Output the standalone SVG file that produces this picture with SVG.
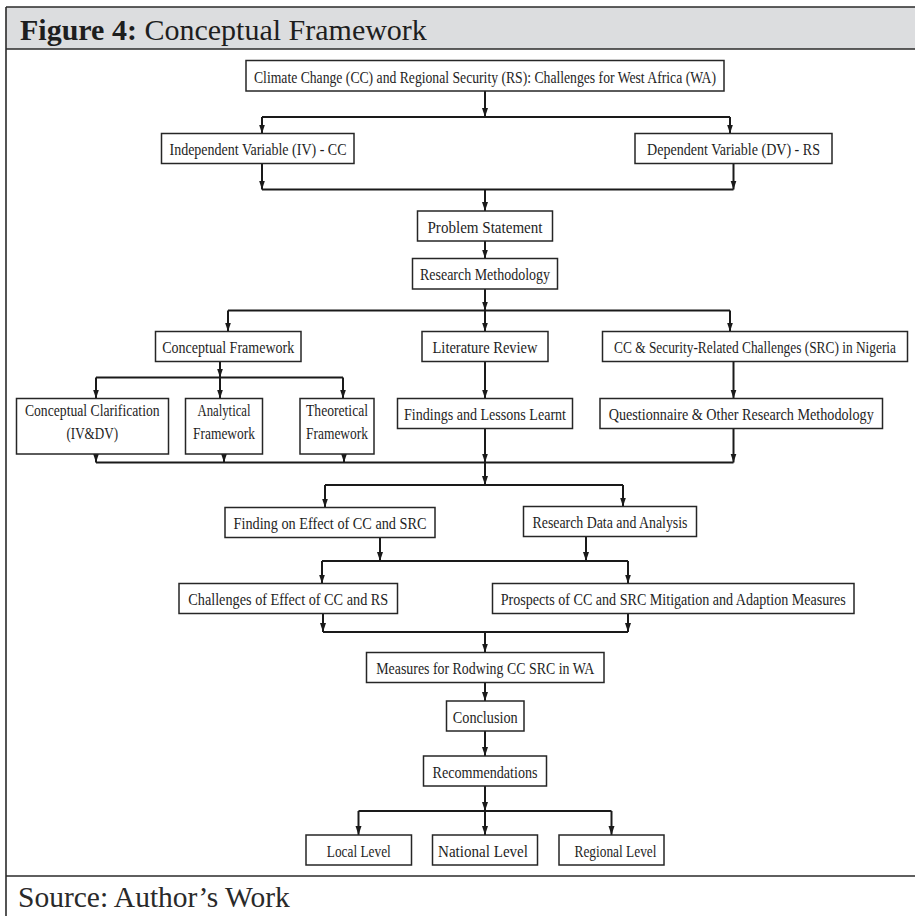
<svg xmlns="http://www.w3.org/2000/svg" width="915" height="916" viewBox="0 0 915 916">
  <style>
    .frame { stroke: #2b2b2b; stroke-width: 1.6; fill: none; }
    .band { fill: #dcdddf; }
    .box { fill: #ffffff; stroke: #262626; stroke-width: 1.5; }
    .lbl { font-family: "Liberation Serif", "Times New Roman", serif; font-size: 16px; fill: #1e1e1e; text-anchor: middle; }
    .title { font-family: "Liberation Serif", "Times New Roman", serif; font-size: 30px; fill: #1e1e1e; }
    .src { font-family: "Liberation Serif", "Times New Roman", serif; font-size: 29.5px; fill: #2a2a2a; }
    .wire { stroke: #1a1a1a; stroke-width: 2; fill: none; }
    .arr { stroke: #1a1a1a; stroke-width: 2; fill: none; marker-end: url(#head); }
  </style>
  <defs>
    <marker id="head" markerUnits="userSpaceOnUse" markerWidth="10" markerHeight="8" refX="9" refY="3.5" orient="auto">
      <path d="M0,0.5 L9,3.5 L0,6.5 z" fill="#1a1a1a"/>
    </marker>
  </defs>

  <!-- page frame and caption bands -->
  <rect class="band" x="6" y="7" width="909" height="42"/>
  <path class="frame" d="M6,7 H915 M6,49 H915 M6,876 H915 M6,7 V916"/>
  <text class="title" x="20" y="40"><tspan font-weight="bold">Figure 4:</tspan> Conceptual Framework</text>
  <text class="src" x="18" y="907">Source: Author’s Work</text>

  <!-- connectors -->
  <g id="connectors">
    <path class="arr" d="M485,91 V117"/>
    <path class="wire" d="M262,117 H730"/>
    <path class="arr" d="M262,117 V133.5"/>
    <path class="arr" d="M730,117 V133.5"/>

    <path class="arr" d="M262,163.5 V189.5"/>
    <path class="arr" d="M733.5,163.5 V189.5"/>
    <path class="wire" d="M262,189.5 H733.5"/>
    <path class="arr" d="M485,189.5 V211"/>

    <path class="arr" d="M485,241 V258.5"/>

    <path class="arr" d="M485,289 V310.5"/>
    <path class="wire" d="M228,310.5 H730"/>
    <path class="arr" d="M228,310.5 V331.5"/>
    <path class="arr" d="M485,310.5 V331.5"/>
    <path class="arr" d="M730,310.5 V331.5"/>

    <path class="arr" d="M220,361.5 V377.5"/>
    <path class="wire" d="M96,377.5 H343"/>
    <path class="arr" d="M96,377.5 V398.5"/>
    <path class="arr" d="M220,377.5 V398.5"/>
    <path class="arr" d="M343,377.5 V398.5"/>
    <path class="arr" d="M485,361.5 V398.5"/>
    <path class="arr" d="M733.5,361.5 V398.5"/>

    <path class="arr" d="M96,454 V462.5"/>
    <path class="arr" d="M224,454 V462.5"/>
    <path class="arr" d="M344,454 V462.5"/>
    <path class="arr" d="M485,428.5 V462.5"/>
    <path class="arr" d="M733.5,428.5 V462.5"/>
    <path class="wire" d="M96,462.5 H733.5"/>

    <path class="arr" d="M485,462.5 V485"/>
    <path class="wire" d="M325,485 H623"/>
    <path class="arr" d="M325,485 V507.5"/>
    <path class="arr" d="M623,485 V506.5"/>

    <path class="arr" d="M380,537.5 V561"/>
    <path class="arr" d="M586,536.5 V561"/>
    <path class="wire" d="M322,561 H628"/>
    <path class="arr" d="M322,561 V583.5"/>
    <path class="arr" d="M628,561 V583.5"/>

    <path class="arr" d="M323,613.5 V632"/>
    <path class="arr" d="M628,613.5 V632"/>
    <path class="wire" d="M323,632 H628"/>
    <path class="arr" d="M485,632 V652.5"/>

    <path class="arr" d="M485,682.5 V701"/>
    <path class="arr" d="M485,731 V756"/>
    <path class="arr" d="M485,786 V811"/>
    <path class="wire" d="M358.5,811 H611.5"/>
    <path class="arr" d="M358.5,811 V835"/>
    <path class="arr" d="M485,811 V835"/>
    <path class="arr" d="M611.5,811 V835"/>
  </g>

  <!-- nodes -->
  <g id="topic">
    <rect class="box" x="246" y="60.5" width="478" height="30.5"/>
    <text class="lbl" x="485" y="82.5" textLength="462" lengthAdjust="spacingAndGlyphs">Climate Change (CC) and Regional Security (RS): Challenges for West Africa (WA)</text>
  </g>
  <g id="iv">
    <rect class="box" x="161.5" y="133.5" width="192.5" height="30"/>
    <text class="lbl" x="258" y="155" textLength="177" lengthAdjust="spacingAndGlyphs">Independent Variable (IV) - CC</text>
  </g>
  <g id="dv">
    <rect class="box" x="635" y="133.5" width="197" height="30"/>
    <text class="lbl" x="733.5" y="155" textLength="173" lengthAdjust="spacingAndGlyphs">Dependent Variable (DV) - RS</text>
  </g>
  <g id="problem">
    <rect class="box" x="417.5" y="211" width="135" height="30"/>
    <text class="lbl" x="485" y="232.5" textLength="115" lengthAdjust="spacingAndGlyphs">Problem Statement</text>
  </g>
  <g id="method">
    <rect class="box" x="412.5" y="258.5" width="145" height="30.5"/>
    <text class="lbl" x="485" y="280" textLength="130" lengthAdjust="spacingAndGlyphs">Research Methodology</text>
  </g>
  <g id="concept">
    <rect class="box" x="155.5" y="331.5" width="145.5" height="30"/>
    <text class="lbl" x="228.25" y="353" textLength="132" lengthAdjust="spacingAndGlyphs">Conceptual Framework</text>
  </g>
  <g id="literature">
    <rect class="box" x="422" y="331.5" width="126" height="30"/>
    <text class="lbl" x="485" y="353" textLength="105" lengthAdjust="spacingAndGlyphs">Literature Review</text>
  </g>
  <g id="src-nigeria">
    <rect class="box" x="602.5" y="331.5" width="305" height="30"/>
    <text class="lbl" x="755" y="353" font-size="15" textLength="282" lengthAdjust="spacingAndGlyphs">CC &amp; Security-Related Challenges (SRC) in Nigeria</text>
  </g>
  <g id="clarification">
    <rect class="box" x="16.5" y="398.5" width="152" height="55.5"/>
    <text class="lbl" x="92.25" y="415.5" textLength="134.7" lengthAdjust="spacingAndGlyphs">Conceptual Clarification</text>
    <text class="lbl" x="92.25" y="439" textLength="51.6" lengthAdjust="spacingAndGlyphs">(IV&amp;DV)</text>
  </g>
  <g id="analytical">
    <rect class="box" x="185.5" y="398.5" width="77" height="55.5"/>
    <text class="lbl" x="224" y="415.5" textLength="53" lengthAdjust="spacingAndGlyphs">Analytical</text>
    <text class="lbl" x="224" y="439" textLength="62" lengthAdjust="spacingAndGlyphs">Framework</text>
  </g>
  <g id="theoretical">
    <rect class="box" x="300" y="398.5" width="74" height="55.5"/>
    <text class="lbl" x="337" y="415.5" textLength="62" lengthAdjust="spacingAndGlyphs">Theoretical</text>
    <text class="lbl" x="337" y="439" textLength="62" lengthAdjust="spacingAndGlyphs">Framework</text>
  </g>
  <g id="findings">
    <rect class="box" x="397.5" y="398.5" width="175" height="30"/>
    <text class="lbl" x="485" y="420" textLength="162" lengthAdjust="spacingAndGlyphs">Findings and Lessons Learnt</text>
  </g>
  <g id="questionnaire">
    <rect class="box" x="600" y="398.5" width="282.5" height="30"/>
    <text class="lbl" x="741.25" y="420" textLength="265" lengthAdjust="spacingAndGlyphs">Questionnaire &amp; Other Research Methodology</text>
  </g>
  <g id="effect">
    <rect class="box" x="225" y="507.5" width="210" height="30"/>
    <text class="lbl" x="330" y="529" textLength="193" lengthAdjust="spacingAndGlyphs">Finding on Effect of CC and SRC</text>
  </g>
  <g id="data">
    <rect class="box" x="523.5" y="506.5" width="173" height="30"/>
    <text class="lbl" x="610" y="528" textLength="155" lengthAdjust="spacingAndGlyphs">Research Data and Analysis</text>
  </g>
  <g id="challenges">
    <rect class="box" x="179" y="583.5" width="218.5" height="30"/>
    <text class="lbl" x="288.25" y="605" textLength="200" lengthAdjust="spacingAndGlyphs">Challenges of Effect of CC and RS</text>
  </g>
  <g id="prospects">
    <rect class="box" x="492.5" y="583.5" width="361.5" height="30"/>
    <text class="lbl" x="673.25" y="605" textLength="345" lengthAdjust="spacingAndGlyphs">Prospects of CC and SRC Mitigation and Adaption Measures</text>
  </g>
  <g id="measures">
    <rect class="box" x="366.5" y="652.5" width="237.5" height="30"/>
    <text class="lbl" x="485.25" y="674" textLength="218" lengthAdjust="spacingAndGlyphs">Measures for Rodwing CC SRC in WA</text>
  </g>
  <g id="conclusion">
    <rect class="box" x="446.5" y="701" width="77.5" height="30"/>
    <text class="lbl" x="485.25" y="723" textLength="65" lengthAdjust="spacingAndGlyphs">Conclusion</text>
  </g>
  <g id="recommendations">
    <rect class="box" x="423.5" y="756" width="123" height="30"/>
    <text class="lbl" x="485" y="777.5" textLength="105" lengthAdjust="spacingAndGlyphs">Recommendations</text>
  </g>
  <g id="local">
    <rect class="box" x="306" y="835" width="105.5" height="30"/>
    <text class="lbl" x="358.75" y="856.5" textLength="64" lengthAdjust="spacingAndGlyphs">Local Level</text>
  </g>
  <g id="national">
    <rect class="box" x="432.5" y="835" width="105" height="30"/>
    <text class="lbl" x="483" y="856.5" textLength="90" lengthAdjust="spacingAndGlyphs">National Level</text>
  </g>
  <g id="regional">
    <rect class="box" x="559" y="835" width="105" height="30"/>
    <text class="lbl" x="615.5" y="856.5" textLength="82" lengthAdjust="spacingAndGlyphs">Regional Level</text>
  </g>
</svg>
